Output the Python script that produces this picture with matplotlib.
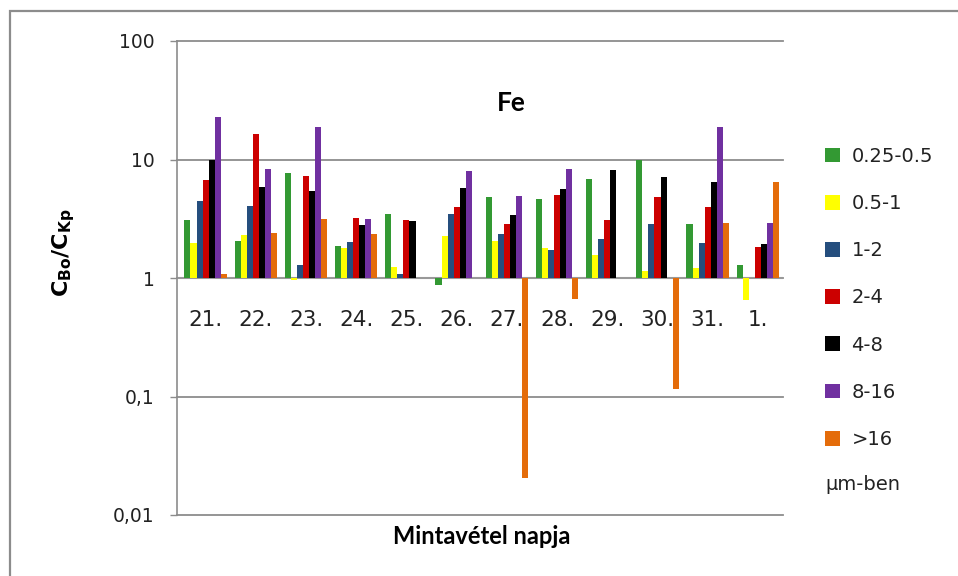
import numpy as np
import matplotlib
matplotlib.use("Agg")
import matplotlib.pyplot as plt
from matplotlib.patches import Rectangle

# ── data (ratio C_Bo / C_Kp, log scale, bars start at 1) ──
days = ["21.", "22.", "23.", "24.", "25.", "26.", "27.", "28.", "29.", "30.", "31.", "1."]
sizes = ["0.25-0.5", "0.5-1", "1-2", "2-4", "4-8", "8-16", ">16"]
nan = np.nan

s_025_05 = [3.06, 2.07, 7.7, 1.88, 3.48, 0.88, 4.8, 4.6, 6.8, 10.0, 2.86, 1.29]
s_05_1   = [1.98, 2.29, 0.97, 1.78, 1.24, 2.24, 2.07, 1.78, 1.55, 1.14, 1.21, 0.65]
s_1_2    = [4.47, 4.04, 1.29, 2.03, 1.09, 3.48, 2.35, 1.71, 2.12, 2.86, 1.98, nan]
s_2_4    = [6.7, 16.5, 7.3, 3.24, 3.08, 3.96, 2.86, 5.05, 3.08, 4.8, 3.96, 1.83]
s_4_8    = [9.9, 5.83, 5.46, 2.78, 3.0, 5.72, 3.4, 5.6, 8.1, 7.15, 6.5, 1.93]
s_8_16   = [22.9, 8.3, 18.9, 3.16, nan, 7.94, 4.9, 8.3, nan, nan, 18.8, 2.93]
s_gt16   = [1.09, 2.4, 3.16, 2.35, nan, nan, 0.0206, 0.667, nan, 0.115, 2.93, 6.5]

series = [s_025_05, s_05_1, s_1_2, s_2_4, s_4_8, s_8_16, s_gt16]
colors = ["#339933", "#ffff00", "#254e7e", "#cc0000", "#000000", "#7030a0", "#e46c0a"]

yticks = [0.01, 0.1, 1, 10, 100]
ytick_labels = ["0,01", "0,1", "1", "10", "100"]

# ── figure ───────────────────────────────────────────────────────────────────
fig = plt.figure(figsize=(9.58, 5.76), dpi=100)
ax = fig.add_axes([177 / 958, 1 - 515 / 576, 606 / 958, 474 / 576])

# outer chart frame (clipped by the image at right/bottom)
fig.patches.append(Rectangle((10 / 958, -0.1), 1.2, 1 - 11 / 576 + 0.1,
                             transform=fig.transFigure, fill=False,
                             edgecolor="#8c8c8c", linewidth=1.6))

x = np.arange(len(days))
w = 0.1207
handles = []
for k, (vals, col) in enumerate(zip(series, colors)):
    vals = np.asarray(vals, dtype=float)
    h = ax.bar(x + (k - 3) * w, vals - 1, bottom=1, width=w, color=col,
               edgecolor="none", label=sizes[k], zorder=3)
    handles.append(h)

ax.set_yscale("log")
ax.set_ylim(0.01, 100)
ax.set_xlim(-0.57, len(days) - 0.5)
ax.set_yticks(yticks)
ax.set_yticklabels(ytick_labels, fontsize=13.5, family="DejaVu Sans", color="#222222")
ax.minorticks_off()
ax.tick_params(axis="y", length=5, width=1, color="#8c8c8c", pad=11)
ax.set_xticks([])

for sp in ["top", "right", "bottom"]:
    ax.spines[sp].set_visible(False)
ax.spines["left"].set_color("#8c8c8c")
ax.spines["left"].set_linewidth(1.2)

ax.grid(axis="y", color="#8c8c8c", linewidth=1.3, zorder=0)
for gl in ax.yaxis.get_gridlines():
    gl.set_clip_on(False)
ax.set_axisbelow(True)
ax.axhline(1, color="#999999", linewidth=1.5, zorder=2)

# category labels sit under the value-1 axis line
for xi, lbl in zip(x, days):
    ax.annotate(lbl, (xi, 1), xytext=(0, -30), textcoords="offset points",
                ha="center", va="center", fontsize=15.5, family="DejaVu Sans",
                color="#222222")

ax.text(0.552, 0.869, "Fe", transform=ax.transAxes, ha="center", va="center",
        fontsize=19, fontweight="bold", family="Lato")

fig.text(482 / 958, 1 - 537 / 576, "Mintavétel napja", ha="center", va="center",
         fontsize=17, fontweight="bold", family="Lato")
fig.text(64 / 958, 1 - 253 / 576, r"$\mathbf{C_{Bo}/C_{Kp}}$", rotation=90,
         ha="center", va="center", fontsize=16)

fig.legend(handles=handles, loc="upper left",
           bbox_to_anchor=(817 / 958, 1 - 139 / 576), frameon=False,
           prop={"family": "DejaVu Sans", "size": 14}, handlelength=0.8,
           handleheight=0.8, handletextpad=0.57, labelspacing=1.45,
           borderaxespad=0, labelcolor="#222222")
fig.text(825 / 958, 1 - 484 / 576, "μm-ben", ha="left", va="center",
         fontsize=14, family="DejaVu Sans", color="#222222")

fig.savefig("out.png", dpi=100)
